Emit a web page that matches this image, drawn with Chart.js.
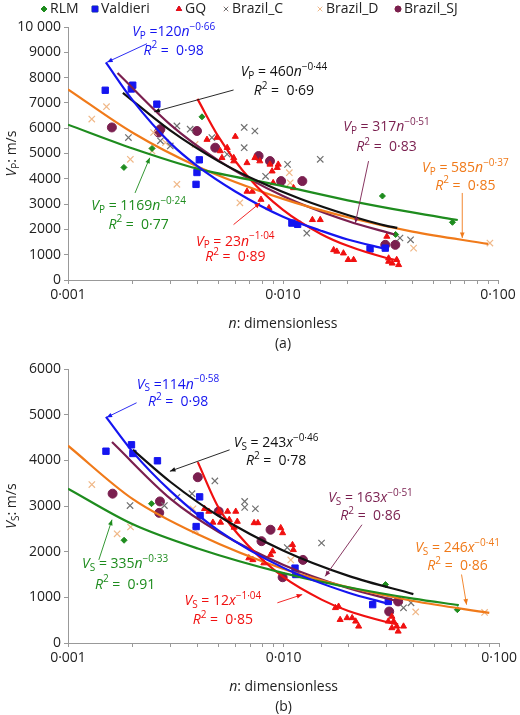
<!DOCTYPE html>
<html>
<head>
<meta charset="utf-8">
<script src="https://cdn.jsdelivr.net/npm/chart.js@4.4.1/dist/chart.umd.min.js"></script>
<style>
  body { margin: 0; background: #fff; }
  #wrapA { position: absolute; left: 0; top: 0; width: 520px; height: 352px; }
  #wrapB { position: absolute; left: 0; top: 355px; width: 520px; height: 360px; }
</style>
</head>
<body>
<div id="wrapA"><canvas id="chartA"></canvas></div>
<div id="wrapB"><canvas id="chartB"></canvas></div>
<script>
// ---- dados: painel (a) Vp ----
const rlmP = [[0.00182,4450],[0.00246,5200],[0.0042,6450],[0.029,3320],[0.0334,1800],[0.0614,2280]];
const valdieriP = [[0.00149,7500],[0.00197,7550],[0.0020,7700],[0.00259,6950],[0.00394,3780],[0.00398,4250],[0.00408,4750],[0.0110,2250],[0.0117,2200],[0.0254,1230],[0.0299,1260]];
const gqP = [[0.00443,5550],[0.00493,5630],[0.00511,5100],[0.0052,4830],[0.0055,5230],[0.0059,4830],[0.006,5670],[0.0059,4700],[0.0068,3500],[0.0072,3500],[0.0068,4630],[0.0074,4830],[0.0078,4700],[0.0079,3180],[0.0086,2850],[0.0087,4570],[0.0089,4300],[0.0090,3840],[0.0094,4440],[0.0095,4570],[0.0112,3640],[0.0137,2380],[0.0149,2380],[0.0172,1190],[0.0178,1130],[0.0191,1060],[0.0201,800],[0.0213,800],[0.0304,1720],[0.031,860],[0.0322,660],[0.0338,800],[0.0345,600],[0.031,730]];
const brazilCP = [[0.00191,5630],[0.00269,5500],[0.00299,5300],[0.00321,6090],[0.0037,5960],[0.00467,5630],[0.0055,4970],[0.0066,6030],[0.0066,5230],[0.0074,5890],[0.0083,4100],[0.0105,4570],[0.0149,4770],[0.0129,1850],[0.035,1660],[0.0392,1590]];
const brazilDP = [[0.00129,6360],[0.00151,6850],[0.00195,4770],[0.0025,5830],[0.00246,5100],[0.00284,5430],[0.00321,3780],[0.0039,5360],[0.0063,3050],[0.0107,4240],[0.0108,3840],[0.0405,1260],[0.0917,1460]];
const brazilSJP = [[0.0016,6030],[0.00264,5830],[0.00269,5960],[0.00398,5890],[0.00484,5230],[0.0077,4900],[0.0087,4700],[0.0098,3910],[0.0123,3910],[0.0299,1390],[0.0333,1390]];

// curvas ajustadas
const fitBlueP = [[0.0015,8600],[0.002,7100],[0.003,5400],[0.004,4500],[0.006,3500],[0.01,2500],[0.015,1950],[0.02,1600],[0.03,1230]];
const fitBlackP = [[0.0018,7400],[0.003,5900],[0.005,4700],[0.008,3830],[0.012,3210],[0.02,2570],[0.03,2150],[0.034,2060]];
const fitGreenP = [[0.001,6140],[0.002,5200],[0.004,4400],[0.01,3710],[0.02,3150],[0.04,2670],[0.065,2370]];
const fitRedP = [[0.004,7160],[0.005,5680],[0.007,4000],[0.01,2770],[0.015,1820],[0.02,1350],[0.03,880],[0.034,780]];
const fitOrangeP = [[0.001,7535],[0.002,5820],[0.004,4490],[0.01,3207],[0.02,2480],[0.04,1910],[0.09,1425]];
const fitMaroonP = [[0.0017,8180],[0.003,6130],[0.005,4730],[0.01,3320],[0.02,2330],[0.033,1800]];

// ---- dados: painel (b) Vs ----
const rlmS = [[0.00182,2250],[0.00244,3050],[0.0297,1280],[0.064,730]];
const valdieriS = [[0.0015,4200],[0.00197,4340],[0.0020,4150],[0.0026,3990],[0.00393,2550],[0.00408,3200],[0.0041,2790],[0.0113,1640],[0.0114,1500],[0.0259,840],[0.0306,910]];
const gqS = [[0.0043,2940],[0.0045,2880],[0.0047,2640],[0.0050,2880],[0.0051,2640],[0.0055,2880],[0.0056,2700],[0.0059,2530],[0.006,2880],[0.0061,2660],[0.0069,1860],[0.0072,1820],[0.0073,2630],[0.0076,2630],[0.0081,1750],[0.0087,1930],[0.0089,2010],[0.0097,2520],[0.0099,2410],[0.011,2150],[0.0111,2040],[0.0174,770],[0.018,800],[0.0183,510],[0.0197,550],[0.0208,550],[0.0216,475],[0.0223,365],[0.0318,580],[0.0324,475],[0.0318,330],[0.0335,365],[0.034,255],[0.036,365],[0.0306,475]];
const brazilCS = [[0.00194,3010],[0.0028,3010],[0.0032,3190],[0.00376,3270],[0.0048,3550],[0.0066,3100],[0.0066,2970],[0.0074,2940],[0.0104,2090],[0.015,2190],[0.036,770],[0.039,880]];
const brazilDS = [[0.00129,3470],[0.00169,2390],[0.00195,2540],[0.0038,2940],[0.0039,2470],[0.0108,1820],[0.041,680],[0.0856,670]];
const brazilSJS = [[0.00161,3270],[0.00265,2850],[0.00267,3100],[0.004,3630],[0.005,2880],[0.0079,2230],[0.0087,2480],[0.0099,1440],[0.0123,1820],[0.0309,690],[0.034,910]];

const fitBlueS = [[0.0015,4950],[0.002,4180],[0.003,3320],[0.005,2460],[0.01,1645],[0.02,1100],[0.03,870]];
const fitBlackS = [[0.002,4230],[0.003,3520],[0.005,2780],[0.01,2020],[0.02,1470],[0.04,1070]];
const fitGreenS = [[0.001,3380],[0.002,2600],[0.004,2070],[0.01,1530],[0.02,1220],[0.04,970],[0.065,830]];
const fitRedS = [[0.004,3960],[0.005,2960],[0.007,2090],[0.01,1440],[0.015,950],[0.02,700],[0.03,460],[0.034,405]];
const fitOrangeS = [[0.001,4320],[0.002,3150],[0.004,2380],[0.01,1620],[0.02,1220],[0.04,920],[0.09,660]];
const fitMaroonS = [[0.0016,4400],[0.003,3150],[0.005,2430],[0.01,1710],[0.02,1200],[0.033,930]];

const xTickLabels = { 0.001: '0·001', 0.01: '0·010', 0.1: '0·100' };

const C = { green: '#1e8c1e', blue: '#1515f0', red: '#f01010', gray: '#707070', tan: '#f0b888', maroon: '#7a1f4f', orange: '#f07a1a', black: '#111' };

// equações: posição em coordenadas de dados
const eqP = [
  { sym: 'P', coef: ' =120', v: 'n', exp: '−0·66', r2: '0·98', color: C.blue, at: [0.0031, 9800, 9070], arrow: [[0.00233, 9340], [0.00152, 8610]] },
  { sym: 'P', coef: ' = 460', v: 'n', exp: '−0·44', r2: '0·69', color: C.black, at: [0.0101, 8210, 7460], arrow: [[0.00589, 7510], [0.00252, 6650]] },
  { sym: 'P', coef: ' = 317', v: 'n', exp: '−0·51', r2: '0·83', color: C.maroon, at: [0.0303, 6030, 5270], arrow: [[0.025, 4700], [0.0217, 2250]] },
  { sym: 'P', coef: ' = 585', v: 'n', exp: '−0·37', r2: '0·85', color: C.orange, at: [0.0705, 4440, 3730], arrow: [[0.0682, 3440], [0.0682, 1660]] },
  { sym: 'P', coef: ' = 1169', v: 'n', exp: '−0·24', r2: '0·77', color: C.green, at: [0.00213, 2910, 2190], arrow: [[0.00205, 3440], [0.0024, 4830]] },
  { sym: 'P', coef: ' = 23', v: 'n', exp: '−1·04', r2: '0·89', color: C.red, at: [0.006, 1520, 890], arrow: [[0.00589, 2190], [0.00783, 3050]] }
];
const eqS = [
  { sym: 'S', coef: ' =114', v: 'n', exp: '−0·58', r2: '0·98', color: C.blue, at: [0.00324, 5660, 5270], arrow: [[0.00208, 5260], [0.00151, 4940]] },
  { sym: 'S', coef: ' = 243', v: 'x', exp: '−0·46', r2: '0·78', color: C.black, at: [0.00923, 4380, 3990], arrow: [[0.00562, 4230], [0.00297, 3760]] },
  { sym: 'S', coef: ' = 163', v: 'x', exp: '−0·51', r2: '0·86', color: C.maroon, at: [0.0253, 3180, 2770], arrow: [[0.0231, 2590], [0.0156, 1460]] },
  { sym: 'S', coef: ' = 246', v: 'x', exp: '−0·41', r2: '0·86', color: C.orange, at: [0.0641, 2080, 1680], arrow: [[0.0669, 1500], [0.0706, 840]] },
  { sym: 'S', coef: ' = 335', v: 'n', exp: '−0·33', r2: '0·91', color: C.green, at: [0.00184, 1730, 1280], arrow: [[0.00139, 1820], [0.0016, 2700]] },
  { sym: 'S', coef: ' = 12', v: 'x', exp: '−1·04', r2: '0·85', color: C.red, at: [0.00523, 910, 510], arrow: [[0.00936, 880], [0.0122, 1060]] }
];

const FONT = '"Open Sans", "DejaVu Sans", sans-serif';
const toXY = arr => arr.map(p => ({ x: p[0], y: p[1] }));

function drawRich(ctx, segs, cx, cy, color) {
  // segs: [texto, estilo] estilo: '', 'i', 'sub', 'sup'
  const size = 14, small = 10;
  const fontOf = st => (st === 'i' ? 'italic ' : '') + ((st === 'sub' || st === 'sup') ? small : size) + 'px ' + FONT;
  let w = 0;
  segs.forEach(s => { ctx.font = fontOf(s[1]); w += ctx.measureText(s[0]).width; });
  let x = cx - w / 2;
  ctx.fillStyle = color;
  ctx.textBaseline = 'middle';
  ctx.textAlign = 'left';
  segs.forEach(s => {
    ctx.font = fontOf(s[1]);
    const dy = s[1] === 'sub' ? 4 : s[1] === 'sup' ? -5 : 0;
    ctx.fillText(s[0], x, cy + dy);
    x += ctx.measureText(s[0]).width;
  });
}

function arrow(ctx, x1, y1, x2, y2, color) {
  ctx.strokeStyle = color; ctx.fillStyle = color; ctx.lineWidth = 0.9;
  ctx.beginPath(); ctx.moveTo(x1, y1); ctx.lineTo(x2, y2); ctx.stroke();
  const a = Math.atan2(y2 - y1, x2 - x1), L = 6;
  ctx.beginPath();
  ctx.moveTo(x2, y2);
  ctx.lineTo(x2 - L * Math.cos(a - 0.4), y2 - L * Math.sin(a - 0.4));
  ctx.lineTo(x2 - L * Math.cos(a + 0.4), y2 - L * Math.sin(a + 0.4));
  ctx.closePath(); ctx.fill();
}

function makeChart(id, opts) {
  const series = [
    { label: 'RLM', data: opts.rlm, color: C.green, style: 'rectRot', r: 3 },
    { label: 'Valdieri', data: opts.valdieri, color: C.blue, style: 'rect', r: 4.5 },
    { label: 'GQ', data: opts.gq, color: C.red, style: 'triangle', r: 3.5 },
    { label: 'Brazil_C', data: opts.bc, color: C.gray, style: 'crossRot', r: 4.5 },
    { label: 'Brazil_D', data: opts.bd, color: C.tan, style: 'crossRot', r: 4.5 },
    { label: 'Brazil_SJ', data: opts.bsj, color: C.maroon, style: 'circle', r: 4.5 }
  ];
  const fits = [
    [opts.fits[0], C.blue], [opts.fits[1], C.black], [opts.fits[2], C.green],
    [opts.fits[3], C.red], [opts.fits[4], C.orange], [opts.fits[5], C.maroon]
  ];
  const datasets = fits.map(f => ({
    type: 'line', label: '', data: toXY(f[0]), borderColor: f[1], borderWidth: 2.2,
    pointRadius: 0, tension: 0.4, fill: false, cubicInterpolationMode: 'monotone'
  })).concat(series.map(s => ({
    type: 'scatter', label: s.label, data: toXY(s.data), pointStyle: s.style, pointRadius: s.r,
    backgroundColor: s.color, borderColor: s.color, borderWidth: s.style === 'crossRot' ? 1.2 : 1
  })));

  const overlay = {
    id: 'overlay',
    afterDraw(chart) {
      const ctx = chart.ctx, xs = chart.scales.x, ys = chart.scales.y, ca = chart.chartArea;
      ctx.save();
      // legenda
      if (opts.legend) {
        const lx = [44, 95, 179, 226, 320, 398];
        series.forEach((s, i) => {
          Chart.helpers.drawPoint(ctx, { pointStyle: s.style, radius: s.style === 'rect' ? 4 : 3, borderWidth: 1.2, rotation: 0 }, lx[i], 9);
          ctx.fillStyle = s.color; ctx.strokeStyle = s.color;
          Chart.helpers.drawPoint(ctx, { pointStyle: s.style, radius: s.style === 'rect' ? 4 : 3, borderWidth: 1.2, rotation: 0 }, lx[i], 9);
          ctx.fillStyle = '#222'; ctx.font = '14px ' + FONT; ctx.textBaseline = 'middle'; ctx.textAlign = 'left';
          ctx.fillText(s.label, lx[i] + 6, 9);
        });
      }
      // equações
      opts.eqs.forEach(e => {
        const cx = xs.getPixelForValue(e.at[0]);
        drawRich(ctx, [['V', 'i'], [e.sym, 'sub'], [e.coef, ''], [e.v, 'i'], [e.exp, 'sup']], cx, ys.getPixelForValue(e.at[1]), e.color);
        drawRich(ctx, [['R', 'i'], ['2', 'sup'], [' =  ' + e.r2, '']], cx, ys.getPixelForValue(e.at[2]), e.color);
        arrow(ctx, xs.getPixelForValue(e.arrow[0][0]), ys.getPixelForValue(e.arrow[0][1]),
          xs.getPixelForValue(e.arrow[1][0]), ys.getPixelForValue(e.arrow[1][1]), e.color);
      });
      // títulos dos eixos
      const mx = (ca.left + ca.right) / 2;
      drawRich(ctx, [['n', 'i'], [': dimensionless', '']], mx, ca.bottom + 44, '#222');
      drawRich(ctx, [[opts.caption, '']], mx, ca.bottom + 64, '#222');
      ctx.translate(12, (ca.top + ca.bottom) / 2);
      ctx.rotate(-Math.PI / 2);
      drawRich(ctx, [['V', 'i'], [opts.sym, 'sub'], [': m/s', '']], 0, 0, '#222');
      ctx.restore();
    }
  };

  return new Chart(document.getElementById(id), {
    data: { datasets },
    options: {
      responsive: true, maintainAspectRatio: false, animation: false,
      layout: { padding: { top: opts.padTop, right: opts.padRight, left: 0, bottom: 0 } },
      plugins: { legend: { display: false }, tooltip: { enabled: false } },
      scales: {
        x: {
          type: 'logarithmic', min: 0.001, max: 0.1,
          border: { color: '#999' },
          grid: { drawOnChartArea: false, tickLength: 4, color: '#999' },
          ticks: {
            autoSkip: false, maxRotation: 0, color: '#222', font: { family: FONT, size: 14 },
            callback: v => xTickLabels[v] || ''
          },
          afterFit: s => { s.height = 72; }
        },
        y: {
          min: 0, max: opts.ymax,
          border: { color: '#999' },
          grid: { drawOnChartArea: false, tickLength: 4, color: '#999' },
          ticks: {
            stepSize: 1000, color: '#222', font: { family: FONT, size: 14 },
            callback: v => v === 10000 ? '10 000' : String(v)
          },
          afterFit: s => { s.width = 68; }
        }
      }
    },
    plugins: [overlay]
  });
}

makeChart('chartA', {
  rlm: rlmP, valdieri: valdieriP, gq: gqP, bc: brazilCP, bd: brazilDP, bsj: brazilSJP,
  fits: [fitBlueP, fitBlackP, fitGreenP, fitRedP, fitOrangeP, fitMaroonP],
  eqs: eqP, ymax: 10000, sym: 'P', caption: '(a)', legend: true, padTop: 27, padRight: 22
});
makeChart('chartB', {
  rlm: rlmS, valdieri: valdieriS, gq: gqS, bc: brazilCS, bd: brazilDS, bsj: brazilSJS,
  fits: [fitBlueS, fitBlackS, fitGreenS, fitRedS, fitOrangeS, fitMaroonS],
  eqs: eqS, ymax: 6000, sym: 'S', caption: '(b)', legend: false, padTop: 14, padRight: 19
});
</script>
</body>
</html>
